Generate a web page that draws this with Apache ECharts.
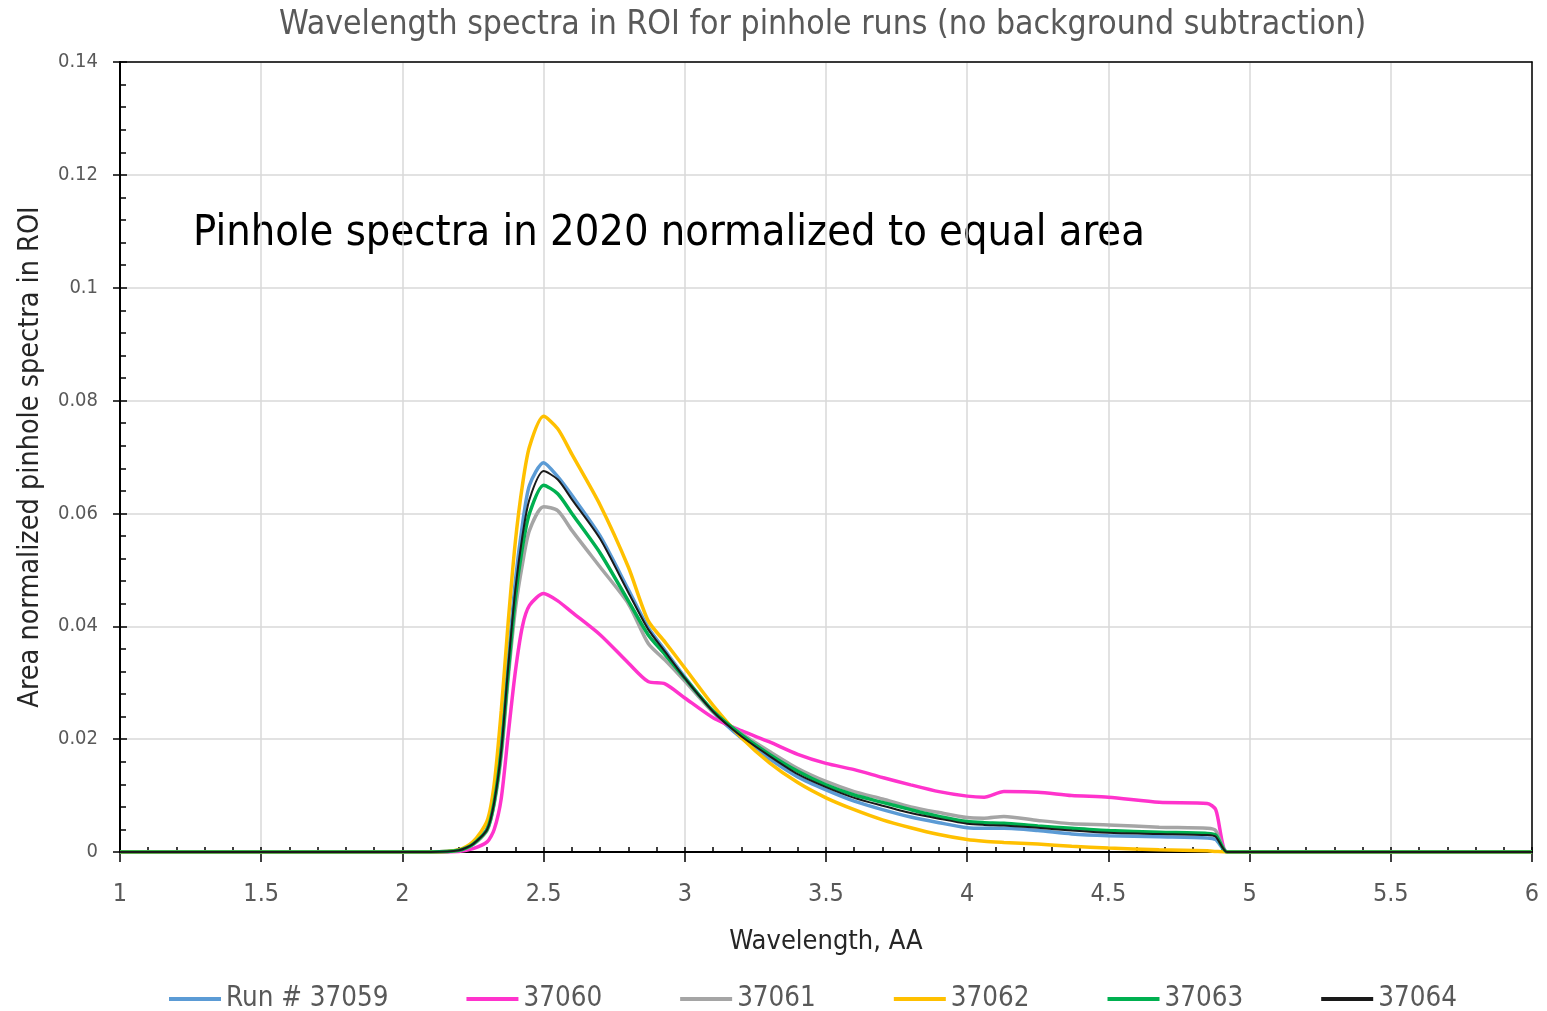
<!DOCTYPE html>
<html>
<head>
<meta charset="utf-8">
<script src="https://cdn.jsdelivr.net/npm/echarts@6/dist/echarts.min.js"></script>
<style>
  html, body { margin: 0; padding: 0; background: #fff; }
  #chart { width: 1547px; height: 1011px; }
</style>
</head>
<body>
<div id="chart"></div>
<script>
// wavelength grid (AA)
var wavelength = [1, 2.1, 2.2, 2.25, 2.3, 2.325, 2.35, 2.375, 2.4, 2.425, 2.45, 2.5, 2.55, 2.6, 2.7, 2.8, 2.87, 2.93, 3.0, 3.1, 3.2, 3.3, 3.4, 3.5, 3.6, 3.7, 3.8, 3.9, 4.0, 4.06, 4.13, 4.25, 4.37, 4.5, 4.68, 4.85, 4.88, 4.92, 5, 6];

var run37059 = [0, 0, 0.0003, 0.0014, 0.0042, 0.009, 0.019, 0.034, 0.048, 0.058, 0.065, 0.069, 0.0665, 0.0632, 0.056, 0.0465, 0.0398, 0.0357, 0.031, 0.0248, 0.0202, 0.0165, 0.0133, 0.011, 0.009, 0.0075, 0.0062, 0.0052, 0.0043, 0.0042, 0.0042, 0.0038, 0.0032, 0.0029, 0.0027, 0.0025, 0.0022, 0, 0, 0];
var run37060 = [0, 0, 0.0001, 0.0006, 0.0018, 0.004, 0.0095, 0.021, 0.032, 0.04, 0.0437, 0.0458, 0.0445, 0.0425, 0.0385, 0.0335, 0.0302, 0.0298, 0.0273, 0.0238, 0.0215, 0.0195, 0.0173, 0.0157, 0.0146, 0.0132, 0.0119, 0.0107, 0.0099, 0.0097, 0.0107, 0.0106, 0.01, 0.0097, 0.0088, 0.0086, 0.0075, 0, 0, 0];
var run37061 = [0, 0, 0.0003, 0.0013, 0.0038, 0.0085, 0.017, 0.031, 0.043, 0.051, 0.057, 0.0612, 0.0605, 0.057, 0.0505, 0.044, 0.037, 0.034, 0.0303, 0.0248, 0.021, 0.0178, 0.0148, 0.0125, 0.0107, 0.0094, 0.008, 0.007, 0.0061, 0.006, 0.0063, 0.0056, 0.005, 0.0048, 0.0044, 0.0042, 0.0038, 0, 0, 0];
var run37062 = [0, 0, 0.0004, 0.0018, 0.0055, 0.012, 0.025, 0.041, 0.055, 0.065, 0.0718, 0.0772, 0.075, 0.0705, 0.0615, 0.0505, 0.041, 0.0372, 0.0326, 0.026, 0.0203, 0.0158, 0.0123, 0.0096, 0.0075, 0.0057, 0.0043, 0.0031, 0.0022, 0.0019, 0.0017, 0.0014, 0.001, 0.0007, 0.0004, 0.0002, 0.0001, 0, 0, 0];
var run37063 = [0, 0, 0.0003, 0.0014, 0.004, 0.0088, 0.018, 0.032, 0.045, 0.054, 0.06, 0.065, 0.0635, 0.06, 0.053, 0.0445, 0.0385, 0.035, 0.0308, 0.025, 0.0208, 0.0173, 0.0143, 0.0119, 0.0101, 0.0088, 0.0075, 0.0063, 0.0054, 0.0052, 0.0051, 0.0046, 0.0042, 0.0038, 0.0035, 0.0033, 0.003, 0, 0, 0];
var run37064 = [0, 0, 0.0003, 0.0014, 0.004, 0.0088, 0.018, 0.033, 0.0465, 0.056, 0.0625, 0.0675, 0.066, 0.0625, 0.0555, 0.046, 0.0395, 0.0355, 0.0308, 0.0249, 0.0205, 0.017, 0.0138, 0.0115, 0.0096, 0.0082, 0.0069, 0.0059, 0.005, 0.0048, 0.0047, 0.0043, 0.0038, 0.0034, 0.0032, 0.003, 0.0027, 0, 0, 0];

var runNames = ['Run # 37059', '37060', '37061', '37062', '37063', '37064'];
var runData = [run37059, run37060, run37061, run37062, run37063, run37064];
var runColors = ['#5b9bd5', '#ff33cc', '#a5a5a5', '#ffc000', '#00b050', '#1a1a1a'];
var runWidths = [3.5, 3.5, 3.5, 3.5, 3.5, 2];

var textFont = "'Liberation Sans Narrow', 'DejaVu Sans Condensed', 'Open Sans', sans-serif";

var chart = echarts.init(document.getElementById('chart'));

var series = runNames.map(function (name, i) {
  return {
    name: name,
    type: 'line',
    xAxisIndex: 0,
    yAxisIndex: 0,
    data: wavelength.map(function (x, k) { return [x, runData[i][k]]; }),
    showSymbol: false,
    symbol: 'none',
    smooth: 0.25,
    color: runColors[i],
    lineStyle: { width: runWidths[i], color: runColors[i] }
  };
});

// frame lines on top and right
function frameAxis(pos) {
  return {
    type: 'value', min: pos === 'top' ? 1 : 0, max: pos === 'top' ? 6 : 0.14,
    position: pos,
    axisLine: { show: true, onZero: false, lineStyle: { color: '#000', width: 1.5 } },
    axisTick: { show: false }, axisLabel: { show: false }, splitLine: { show: false }
  };
}

var option = {
  backgroundColor: '#fff',
  animation: false,
  title: {
    text: 'Wavelength spectra in ROI for pinhole runs (no background subtraction)',
    left: 274,
    top: 3,
    textStyle: { fontFamily: textFont, fontSize: 33.5, fontWeight: 'normal', color: '#595959' }
  },
  graphic: [{
    type: 'text',
    left: 193,
    top: 212,
    style: {
      text: 'Pinhole spectra in 2020 normalized to equal area',
      font: "43px 'Liberation Sans Narrow', 'DejaVu Sans Condensed', sans-serif",
      fill: '#000'
    }
  }],
  legend: {
    left: 164,
    top: 980,
    icon: 'rect',
    itemWidth: 52,
    itemHeight: 4,
    itemGap: 78,
    textStyle: { fontFamily: textFont, fontSize: 27.5, color: '#595959' },
    data: runNames
  },
  grid: {
    left: 120,
    right: 15,
    top: 62,
    bottom: 159
  },
  xAxis: [{
    type: 'value',
    min: 1,
    max: 6,
    interval: 0.5,
    name: 'Wavelength, AA',
    nameLocation: 'middle',
    nameGap: 76,
    nameTextStyle: { fontFamily: textFont, fontSize: 27, color: '#262626' },
    axisLine: { lineStyle: { color: '#000', width: 2 } },
    axisTick: { show: true, inside: true, length: 5, lineStyle: { color: '#000', width: 1.5 } },
    minorTick: { show: true, splitNumber: 5, length: 5, lineStyle: { color: '#000', width: 1.5 } },
    axisLabel: { fontFamily: textFont, fontSize: 25, color: '#595959', margin: 30 },
    splitLine: { show: true, lineStyle: { color: '#d9d9d9', width: 1.5 } }
  }, {
    type: 'value',
    min: 1,
    max: 6,
    interval: 0.5,
    position: 'bottom',
    axisLine: { show: false },
    axisTick: { show: true, inside: false, length: 10, lineStyle: { color: '#000', width: 1.5 } },
    axisLabel: { show: false },
    splitLine: { show: false }
  }, frameAxis('top')],
  yAxis: [{
    type: 'value',
    min: 0,
    max: 0.14,
    interval: 0.02,
    name: 'Area normalized pinhole spectra in ROI',
    nameLocation: 'middle',
    nameGap: 75,
    nameTextStyle: { fontFamily: textFont, fontSize: 28.5, color: '#262626' },
    axisLine: { lineStyle: { color: '#000', width: 2 } },
    axisTick: { show: true, inside: true, length: 7, lineStyle: { color: '#000', width: 1.5 } },
    minorTick: { show: true, splitNumber: 5, length: 6, lineStyle: { color: '#000', width: 1.5 } },
    axisLabel: {
      fontFamily: textFont, fontSize: 20, color: '#595959', margin: 22,
      formatter: function (v) { return String(+v.toFixed(2)); }
    },
    splitLine: { show: true, lineStyle: { color: '#d9d9d9', width: 1.5 } }
  }, {
    type: 'value',
    min: 0,
    max: 0.14,
    interval: 0.02,
    position: 'left',
    axisLine: { show: false },
    axisTick: { show: true, inside: false, length: 7, lineStyle: { color: '#000', width: 1.5 } },
    axisLabel: { show: false },
    splitLine: { show: false }
  }, frameAxis('right')],
  series: series
};

chart.setOption(option);
</script>
</body>
</html>
